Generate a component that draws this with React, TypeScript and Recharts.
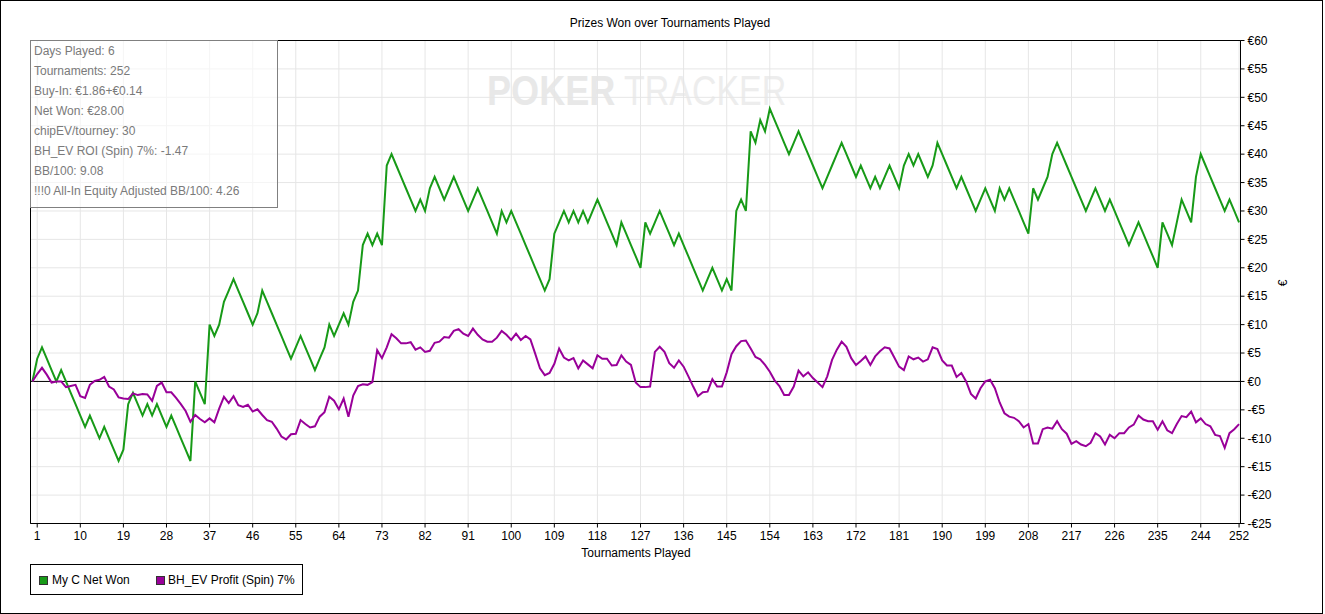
import React from 'react'
import {
  LineChart,
  Line,
  XAxis,
  YAxis,
  CartesianGrid,
  ReferenceLine,
  ReferenceArea,
} from 'recharts'

// ─── Data ───────────────────────────────────────────────────────
// cumulative net won in €, tournament 0..252
const NET_WON = [
  0, 4, 6, 4, 2, 0, 2, 0, -2, -4,
  -6, -8, -6, -8, -10, -8, -10, -12, -14, -12,
  -4, -2, -4, -6, -4, -6, -4, -6, -8, -6,
  -8, -10, -12, -14, 0, -2, -4, 10, 8, 10,
  14, 16, 18, 16, 14, 12, 10, 12, 16, 14,
  12, 10, 8, 6, 4, 6, 8, 6, 4, 2,
  4, 6, 10, 8, 10, 12, 10, 14, 16, 24,
  26, 24, 26, 24, 38, 40, 38, 36, 34, 32,
  30, 32, 30, 34, 36, 34, 32, 34, 36, 34,
  32, 30, 32, 34, 32, 30, 28, 26, 30, 28,
  30, 28, 26, 24, 22, 20, 18, 16, 18, 26,
  28, 30, 28, 30, 28, 30, 28, 30, 32, 30,
  28, 26, 24, 28, 26, 24, 22, 20, 28, 26,
  28, 30, 28, 26, 24, 26, 24, 22, 20, 18,
  16, 18, 20, 18, 16, 18, 16, 30, 32, 30,
  44, 42, 46, 44, 48, 46, 44, 42, 40, 42,
  44, 42, 40, 38, 36, 34, 36, 38, 40, 42,
  40, 38, 36, 38, 36, 34, 36, 34, 36, 38,
  36, 34, 38, 40, 38, 40, 38, 36, 38, 42,
  40, 38, 36, 34, 36, 34, 32, 30, 32, 34,
  32, 30, 34, 32, 34, 32, 30, 28, 26, 34,
  32, 34, 36, 40, 42, 40, 38, 36, 34, 32,
  30, 32, 34, 32, 30, 32, 30, 28, 26, 24,
  26, 28, 26, 24, 22, 20, 28, 26, 24, 28,
  32, 30, 28, 36, 40, 38, 36, 34, 32, 30,
  32, 30, 28,
]

// BH_EV profit (Spin) 7%, tournament 0..252
const EV_PROFIT = [
  0, 1.3, 2.4, 1.2, -0.2, 0, 0, -1.0, -0.8, -0.6,
  -2.6, -2.9, -0.6, 0.1, 0.3, 0.8, -0.9, -1.4, -2.8, -3.0,
  -3.1, -2.1, -2.4, -2.2, -2.3, -3.4, -0.8, -0.2, -1.9, -1.9,
  -2.9, -4.0, -5.2, -7.1, -5.9, -6.6, -7.2, -6.5, -7.2, -4.8,
  -2.7, -3.8, -2.6, -4.2, -4.5, -4.1, -5.3, -4.9, -5.9, -6.8,
  -7.1, -8.3, -9.7, -10.2, -9.3, -9.2, -6.8, -7.5, -8.1, -7.9,
  -6.2, -5.4, -2.7, -3.4, -4.9, -3.0, -6.2, -2.5, -0.8, -0.5,
  -0.6, -0.1, 5.5, 4.1, 6.0, 8.3, 7.6, 6.7, 6.7, 6.9,
  5.6, 6.0, 5.2, 5.4, 6.8, 7.0, 7.8, 7.7, 8.9, 9.2,
  8.4, 8.0, 9.3, 8.2, 7.4, 7.0, 7.0, 7.7, 8.9, 8.2,
  7.3, 8.4, 7.3, 8.0, 7.4, 4.9, 2.3, 1.1, 1.5, 3.1,
  5.8, 4.2, 3.7, 4.1, 2.3, 3.7, 3.0, 2.3, 4.6, 4.0,
  4.0, 2.8, 2.9, 4.6, 3.5, 2.9, -0.2, -1.0, -1.0, -0.9,
  5.2, 6.1, 5.2, 3.2, 2.4, 3.7, 2.6, 0.9, -0.9, -2.6,
  -1.9, -1.8, 0.4, -0.9, -0.9, 1.6, 4.8, 6.2, 7.1, 7.2,
  5.8, 4.3, 3.9, 2.9, 1.7, 0.2, -0.8, -2.4, -2.4, -0.9,
  1.9, 0.9, 1.6, 0.6, -0.2, -1.0, 0.9, 3.8, 5.6, 7.0,
  6.1, 4.1, 2.9, 3.6, 4.4, 2.9, 4.4, 5.3, 6.0, 5.8,
  4.2, 2.6, 2.0, 4.4, 3.9, 4.2, 3.5, 3.9, 6.0, 5.7,
  3.7, 2.8, 2.8, 0.8, 1.5, 0, -2.2, -3.0, -1.2, 0,
  0.3, -1.2, -3.7, -5.6, -6.2, -6.4, -7.0, -8.1, -7.5, -10.9,
  -10.9, -8.4, -8.1, -8.3, -7.0, -8.4, -9.2, -11.0, -10.5, -11.1,
  -11.4, -10.8, -9.1, -9.7, -11.1, -9.4, -10.0, -9.1, -9.1, -8.1,
  -7.6, -6.0, -6.7, -7.0, -7.0, -8.5, -7.0, -8.6, -9.1, -7.5,
  -6.1, -6.3, -5.3, -7.2, -6.5, -7.5, -7.9, -9.4, -9.6, -11.7,
  -9.1, -8.4, -7.5,
]

const X_TICKS = [1, 10, 19, 28, 37, 46, 55, 64, 73, 82, 91, 100, 109, 118, 127, 136, 145, 154, 163, 172, 181, 190, 199, 208, 217, 226, 235, 244, 252]
const Y_TICKS = [-25, -20, -15, -10, -5, 0, 5, 10, 15, 20, 25, 30, 35, 40, 45, 50, 55, 60]

const STATS = [
  'Days Played: 6',
  'Tournaments: 252',
  'Buy-In: €1.86+€0.14',
  'Net Won: €28.00',
  'chipEV/tourney: 30',
  'BH_EV ROI (Spin) 7%: -1.47',
  'BB/100: 9.08',
  '!!!0 All-In Equity Adjusted BB/100: 4.26',
]

const GREEN = '#179a17'
const PURPLE = '#990099'
const FONT = '"Liberation Sans", Arial, sans-serif'

const data = NET_WON.map((won, i) => ({ t: i, won, ev: EV_PROFIT[i] }))

const euro = (v: number) => (v < 0 ? `-€${-v}` : `€${v}`)

export default function App() {
  return (
    <div style={{ position: 'relative', width: 1323, height: 614, fontFamily: FONT, background: '#fff' }}>
      <style>{`body{margin:0}`}</style>

      {/* watermark, behind the plot */}
      <svg width={1323} height={614} style={{ position: 'absolute', left: 0, top: 0 }}>
        <g transform="translate(487,105) scale(0.84,1)">
          <text x={0} y={0} fontFamily={FONT} fontSize={43} fontWeight={700} fill="#e8e8e8">POKER</text>
        </g>
        <g transform="translate(624,105) scale(0.79,1)">
          <text x={0} y={0} fontFamily={FONT} fontSize={43} fontWeight={400} fill="#ededed">TRACKER</text>
        </g>
      </svg>

      <div style={{ position: 'absolute', left: 0, top: 0 }}>
        <LineChart
          width={1323}
          height={614}
          data={data}
          margin={{ top: 40.5, right: 0, left: 30.5, bottom: 60.5 }}
        >
          <CartesianGrid stroke="#e6e6e6" />
          <XAxis
            dataKey="t"
            type="number"
            domain={[-0.4, 252.3]}
            ticks={X_TICKS}
            interval={0}
            height={30}
            tickSize={4}
            tickMargin={4}
            tick={{ fontSize: 12, fill: '#000', fontFamily: FONT }}
            stroke="#000"
          />
          <YAxis
            orientation="right"
            type="number"
            domain={[-25, 60]}
            ticks={Y_TICKS}
            interval={0}
            width={82.5}
            tickSize={4}
            tickMargin={3}
            tickFormatter={euro}
            tick={{ fontSize: 12, fill: '#000', fontFamily: FONT }}
            stroke="#000"
          />
          <ReferenceLine y={0} stroke="#000" strokeWidth={1} />
          <Line type="linear" dataKey="won" stroke={GREEN} strokeWidth={2} dot={false} isAnimationActive={false} />
          <Line type="linear" dataKey="ev" stroke={PURPLE} strokeWidth={2} dot={false} isAnimationActive={false} />
          <ReferenceArea x1={-0.4} x2={252.3} y1={-25} y2={60} fill="none" stroke="#000" strokeWidth={1} />
        </LineChart>
      </div>

      {/* title */}
      <div style={{ position: 'absolute', left: 470, width: 400, top: 16, textAlign: 'center', fontSize: 12, lineHeight: '14px' }}>
        Prizes Won over Tournaments Played
      </div>

      {/* axis titles */}
      <div style={{ position: 'absolute', left: 536, width: 200, top: 546, textAlign: 'center', fontSize: 12, lineHeight: '14px' }}>
        Tournaments Played
      </div>
      <div style={{ position: 'absolute', left: 1276, top: 276, width: 14, textAlign: 'center', fontSize: 12, lineHeight: '14px', transform: 'rotate(-90deg)' }}>
        €
      </div>

      {/* stats box */}
      <div
        style={{
          position: 'absolute',
          left: 30,
          top: 40,
          width: 243,
          height: 166,
          border: '1px solid #808080',
          background: 'rgba(255,255,255,0.6)',
          color: '#7a7a7a',
          fontSize: 12,
          lineHeight: '20px',
          paddingLeft: 3,
          boxSizing: 'content-box',
        }}
      >
        {STATS.map((s) => (
          <div key={s} style={{ whiteSpace: 'nowrap' }}>{s}</div>
        ))}
      </div>

      {/* legend */}
      <div
        style={{
          position: 'absolute',
          left: 30,
          top: 564,
          width: 271,
          height: 29,
          border: '1px solid #000',
          fontSize: 12,
          lineHeight: '14px',
        }}
      >
        <div style={{ position: 'absolute', left: 8, top: 11, width: 7, height: 7, background: GREEN, border: '1px solid #333' }} />
        <div style={{ position: 'absolute', left: 21, top: 8 }}>My C Net Won</div>
        <div style={{ position: 'absolute', left: 125, top: 11, width: 7, height: 7, background: PURPLE, border: '1px solid #333' }} />
        <div style={{ position: 'absolute', left: 137, top: 8 }}>BH_EV Profit (Spin) 7%</div>
      </div>

      {/* outer frame */}
      <div style={{ position: 'absolute', left: 0, top: 0, width: 1323, height: 614, border: '1px solid #000', boxSizing: 'border-box', pointerEvents: 'none' }} />
    </div>
  )
}
